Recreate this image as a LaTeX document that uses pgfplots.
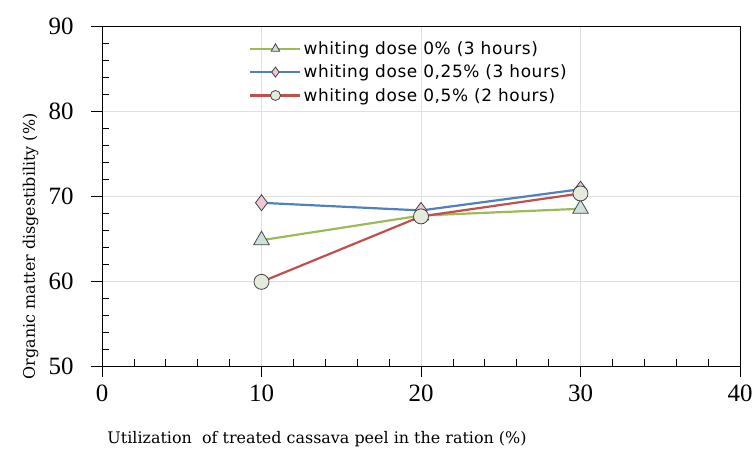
\documentclass[border=0pt]{standalone}
\usepackage{pgfplots}
\pgfplotsset{compat=1.18}
\usepackage{fontspec}
\setmainfont{Liberation Serif}
\newfontfamily\legfont[LetterSpace=3.5]{DejaVu Sans}
\newfontfamily\labfont{DejaVu Serif}
\definecolor{cgreen}{RGB}{155,187,89}
\definecolor{cblue}{RGB}{79,129,189}
\definecolor{cred}{RGB}{192,80,77}
\definecolor{ftri}{RGB}{205,225,220}
\definecolor{fdia}{RGB}{238,200,212}
\definecolor{fcir}{RGB}{228,234,220}
\definecolor{medge}{RGB}{70,70,70}
\begin{document}
\begin{tikzpicture}
\useasboundingbox (0,0) rectangle (753bp,470bp);
\begin{axis}[
  at={(102bp,104bp)}, anchor=south west,
  scale only axis, width=638bp, height=340bp,
  xmin=0, xmax=40, ymin=50, ymax=90,
  xtick={0,10,...,40}, ytick={50,60,...,90},
  minor x tick num=4, minor y tick num=4,
  xtick pos=bottom, ytick pos=left,
  tick align=outside,
  major tick length=11bp, minor tick length=-7bp,
  tick style={black, line width=0.8bp},
  grid=major, major grid style={gray!25, line width=0.6bp},
  axis line style={black, line width=0.9bp},
  /pgf/number format/assume math mode=true,
  ticklabel style={font=\fontsize{25}{25}\selectfont},
  xticklabel style={yshift=-4bp},
  yticklabel style={xshift=-14bp},
  xlabel={Utilization\ \ of treated cassava peel in the ration (\%)},
  ylabel={Organic matter disgestibility (\%)},
  label style={font=\labfont\fontsize{16}{16}\selectfont},
  xlabel style={at={(axis description cs:0.337,0)}, anchor=north, yshift=-62bp},
  ylabel style={at={(axis description cs:0,0.352)}, anchor=south, yshift=60bp},
  legend style={draw=none, fill=none, at={(axis cs:8.6,89.6)}, anchor=north west,
    font=\legfont\fontsize{17}{17}\selectfont, row sep=5bp, inner sep=10bp},
  legend cell align=left,
  legend image code/.code={\draw[mark repeat=2, mark phase=2, mark size=5bp] plot coordinates {(0bp,0bp) (25bp,0bp) (50bp,0bp)};},
  every axis plot/.append style={line width=2.2bp},
]
\addplot[cgreen, mark=triangle*, mark size=9bp, mark options={fill=ftri, draw=medge, line width=0.8bp}]
  coordinates {(10,64.8) (20,67.7) (30,68.5)};
\addlegendentry{whiting dose 0\% (3 hours)}
\addplot[cblue, mark=diamond*, mark size=8bp, mark options={fill=fdia, draw=medge, line width=0.8bp}]
  coordinates {(10,69.2) (20,68.3) (30,70.8)};
\addlegendentry{whiting dose 0,25\% (3 hours)}
\addplot[cred, mark=*, mark size=7.5bp, mark options={fill=fcir, draw=medge, line width=0.8bp}]
  coordinates {(10,59.9) (20,67.6) (30,70.3)};
\addlegendentry{whiting dose 0,5\% (2 hours)}
\end{axis}
\end{tikzpicture}
\end{document}
